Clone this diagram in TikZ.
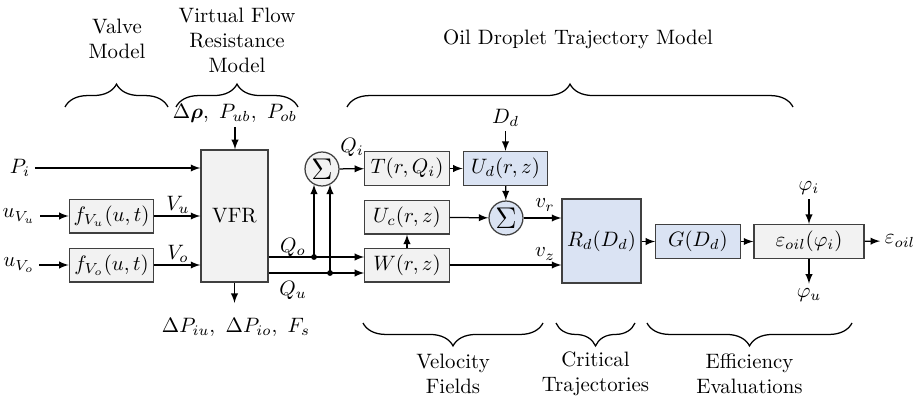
\documentclass[tikz,border=0pt]{standalone}
\usepackage{amsmath}
\usepackage{amssymb}
\usepackage{bm}
\usepackage{tikz}
\usetikzlibrary{positioning,calc,arrows,decorations.pathreplacing}
\definecolor{boxgray}{HTML}{F2F2F2}
\definecolor{boxblue}{HTML}{DAE3F3}
\definecolor{edgegray}{HTML}{404040}
\tikzstyle{block}=[draw=edgegray, fill=boxgray, semithick, minimum width=40.5pt, minimum height=16.2pt, inner sep=0pt]
\tikzstyle{bblock}=[block, fill=boxblue]
\tikzstyle{sumnode}=[circle, draw=edgegray, fill=boxgray, semithick, minimum size=16.3pt, inner sep=0pt]
\tikzstyle{sig}=[inner sep=2pt]
\tikzstyle{brc}=[decorate, decoration={brace, amplitude=11pt}, semithick]

\begin{document}
\begin{tikzpicture}[x=0.48pt, y=-0.48pt, >=latex, semithick]
    \useasboundingbox (0,0) rectangle (918,400);

    % Blocks
    \node[block, minimum width=32.2pt, minimum height=63.4pt] (vfr) at (234.5,216) {VFR};
    \node[block] (fvu) at (111.5,216) {$f_{V_u}(u,t)$};
    \node[block] (fvo) at (111.5,265) {$f_{V_o}(u,t)$};
    \node[sumnode] (sum1) at (322,169) {\Large$\Sigma$};
    \node[block] (tb) at (407,168.5) {$T(r,Q_i)$};
    \node[bblock] (ud) at (505.5,168.5) {$U_d(r,z)$};
    \node[block] (uc) at (407,217) {$U_c(r,z)$};
    \node[block] (wb) at (407,265) {$W(r,z)$};
    \node[sumnode, fill=boxblue] (sum2) at (506,218) {\Large$\Sigma$};
    \node[bblock, minimum width=37.9pt, minimum height=40.3pt] (rd) at (601.5,241) {$R_d(D_d)$};
    \node[bblock] (gb) at (698,241.5) {$G(D_d)$};
    \node[block, minimum width=52.8pt] (eps) at (809,241.5) {$\varepsilon_{oil}(\varphi_i)$};

    % Inputs of the valve and VFR models
    \node[sig] (pi) at (20,168) {$P_i$};
    \node[sig] (uvu) at (19,216) {$u_{V_u}$};
    \node[sig] (uvo) at (19,265) {$u_{V_o}$};
    \node[sig] (dp) at (235,113) {$\Delta\bm{\rho},\ P_{ub},\ P_{ob}$};
    \node[sig] (dpb) at (236,327) {$\Delta P_{iu},\ \Delta P_{io},\ F_s$};
    \coordinate (vfrb) at (234.5,303);

    \draw[->] (pi) -- (pi -| vfr.west);
    \draw[->] (uvu) -- (fvu);
    \draw[->] (uvo) -- (fvo);
    \draw[->] (fvu) -- (fvu -| vfr.west);
    \draw[->] (fvo) -- (fvo -| vfr.west);
    \draw[->] (dp) -- (dp |- vfr.north);
    \draw[->] (vfr.south) -- (vfrb);
    \node[sig] (vu) at (178,205) {$V_u$};
    \node[sig] (vo) at (178,254) {$V_o$};

    % Flow rates out of the VFR
    \coordinate (jo) at (314,257);
    \coordinate (ju) at (330,273);
    \draw[->] (vfr.east |- jo) -- (wb.west |- jo);
    \draw[->] (vfr.east |- ju) -- (wb.west |- ju);
    \draw[->] (jo) -- (jo |- sum1.242);
    \draw[->] (ju) -- (ju |- sum1.298);
    \fill (jo) circle (1.4pt);
    \fill (ju) circle (1.4pt);
    \node[sig] (qo) at (293,247) {$Q_o$};
    \node[sig] (qu) at (293,290) {$Q_u$};
    \node[sig] (qi) at (352,147) {$Q_i$};

    % Velocity fields
    \node[sig] (dd) at (505.5,118) {$D_d$};
    \draw[->] (sum1) -- (tb);
    \draw[->] (tb) -- (ud);
    \draw[->] (dd) -- (ud);
    \draw[->] (ud) -- (sum2);
    \draw[->] (uc) -- (sum2);
    \draw[->] (wb) -- (uc);
    \draw[->] (sum2) -- (sum2 -| rd.west);
    \draw[->] (wb) -- (wb -| rd.west);
    \node[sig] (vr) at (545,205) {$v_r$};
    \node[sig] (vz) at (545,254) {$v_z$};

    % Trajectories and efficiency
    \node[sig] (phii) at (809,188) {$\varphi_i$};
    \node[sig] (phiu) at (809,295) {$\varphi_u$};
    \node[sig] (eout) at (900,241) {$\varepsilon_{oil}$};
    \draw[->] (rd.east |- gb) -- (gb);
    \draw[->] (gb) -- (eps);
    \draw[->] (phii) -- (eps);
    \draw[->] (eps) -- (phiu);
    \draw[->] (eps) -- (eout);

    % Braces on top
    \draw[brc] (65,107) -- (168,107);
    \draw[brc] (176,107) -- (298,107);
    \draw[brc] (347,107) -- (793,107);
    \node[align=center] (valve) at (117,39) {Valve\\Model};
    \node[align=center] (vflow) at (237,40) {Virtual Flow\\Resistance\\Model};
    \node (oil) at (578,39) {Oil Droplet Trajectory Model};

    % Braces below
    \foreach \xa/\xb/\txt/\nm in {363/543/{Velocity\\Fields}/velo, 556/635/{Critical\\Trajectories}/crit, 647/852/{Efficiency\\Evaluations}/effi} {
        \draw[brc] (\xb,323) -- (\xa,323);
        \node[align=center] (\nm) at ({(\xa+\xb)/2},374) {\txt};
    }

\end{tikzpicture}
\end{document}
